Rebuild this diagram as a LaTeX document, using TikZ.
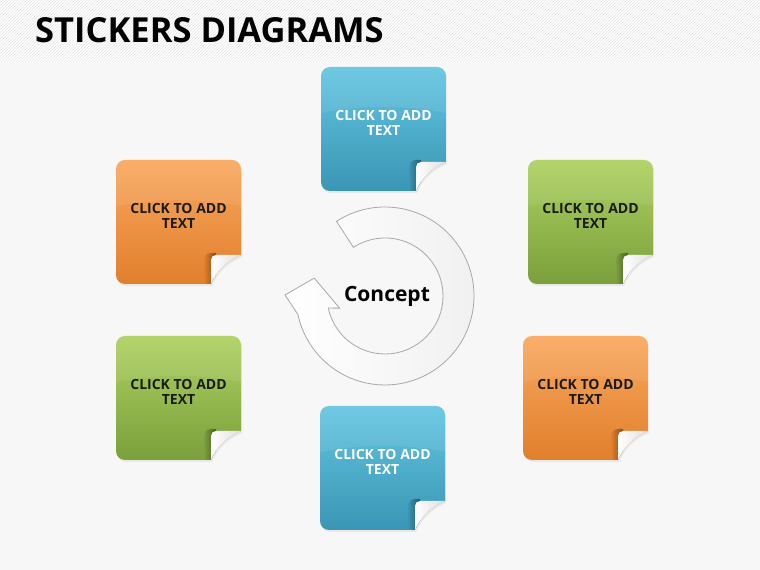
\documentclass[tikz,border=0pt]{standalone}
\usepackage{fontspec}
\setmainfont{Open Sans}
\usepackage{xcolor}
\usepackage{tikz}
\usetikzlibrary{calc,patterns}
\definecolor{blueT}{HTML}{63C5E1}
\definecolor{blueB}{HTML}{3A96B4}
\definecolor{orangeT}{HTML}{F9A85E}
\definecolor{orangeB}{HTML}{E17F2D}
\definecolor{greenT}{HTML}{ADD160}
\definecolor{greenB}{HTML}{7BA03C}
\definecolor{ink}{HTML}{1A1A1A}
\definecolor{ringgray}{HTML}{A8A8A8}

\begin{document}
\begin{tikzpicture}[x=1pt,y=1pt,
  stickertext/.style={align=center,inner sep=0pt,font=\bfseries\fontsize{14}{15.5}\selectfont},
  stickerbody/.style={insert path={(0,9) -- (0,115) arc[start angle=180,end angle=90,radius=9] -- (116,124)
    arc[start angle=90,end angle=0,radius=9] -- (125,29) .. controls (111,23) and (101,14) .. (95,0)
    -- (9,0) arc[start angle=270,end angle=180,radius=9] -- cycle}},
  curl/.style={left color=white,right color=gray!25}]
\fill[black!3] (0,0) rectangle (760,570);
\useasboundingbox (0,0) rectangle (760,570);
\fill[white] (0,508) rectangle (760,570);
\fill[pattern=north east lines,pattern color=gray!20] (0,508) rectangle (760,570);
\node[anchor=base west,inner sep=0pt,font=\bfseries\fontsize{34.5}{40}\selectfont] (title) at (35,527) {STICKERS DIAGRAMS};
% stickers
\foreach \n/\x/\y/\col/\tc in {1/321/379/blue/white,2/116/286/orange/ink,3/528/286/green/ink,
  4/116/110/green/ink,5/523/110/orange/ink,6/320/40/blue/white}{
  \begin{scope}[shift={(\x,\y)}]
    \fill[black,opacity=0.06,shift={(1,-2)}] [stickerbody];
    \begin{scope}
      \clip [stickerbody];
      \shade[top color=\col T,bottom color=\col B] (0,0) rectangle (125,124);
      \fill[white,opacity=0.08] (0,124) -- (0,78) .. controls (40,86) and (85,86) .. (125,78) -- (125,124) -- cycle;
      \shade[left color=\col B,right color=\col B!60!black] (88,0) -- (88,24) arc[start angle=180,end angle=90,radius=7] -- (100,31) -- (100,0) -- cycle;
    \end{scope}
    \shade[curl] (95,0) -- (95,24) arc[start angle=180,end angle=90,radius=5] -- (125,29)
      .. controls (111,23) and (101,14) .. (95,0) -- cycle;
  \end{scope}
  \node[stickertext,text=\tc] (s\n) at (\x+62.5,\y+68) {CLICK TO ADD\\TEXT};
}
% circular arrow
\coordinate (c) at (385,274);
\path[draw=ringgray,line width=0.8pt,left color=white,right color=gray!12]
  ($(c)+(123:89)$) arc[start angle=123,end angle=-168,radius=89] -- ($(c)+(179.4:100)$)
  -- ($(c)+(165.8:73)$) -- ($(c)+(195:47)$) -- ($(c)+(192:58)$)
  arc[start angle=192,end angle=483,radius=58] -- cycle;
\node[anchor=base,inner sep=0pt,font=\bfseries\fontsize{21}{24}\selectfont] (concept) at (387,268) {Concept};
\end{tikzpicture}
\end{document}
